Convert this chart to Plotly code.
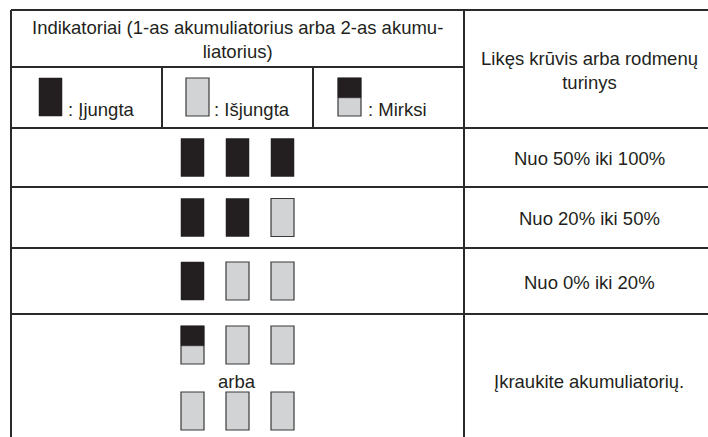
import plotly.graph_objects as go

# ---------------- data ----------------
header_title = "Indikatoriai (1-as akumuliatorius arba 2-as akumu-<br>liatorius)"
result_header = "Likęs krūvis arba rodmenų<br>turinys"
legend_labels = [": Įjungta", ": Išjungta", ": Mirksi"]
legend_states = ["on", "off", "blink"]
row_results = ["Nuo 50% iki 100%", "Nuo 20% iki 50%", "Nuo 0% iki 20%", "Įkraukite akumuliatorių."]
row_states = [
    [["on", "on", "on"]],
    [["on", "on", "off"]],
    [["on", "off", "off"]],
    [["blink", "off", "off"], ["off", "off", "off"]],
]
alt_word = "arba"

# ---------------- style / layout ----------------
W, H = 708, 437
DARK = "#231f20"
LIGHT = "#d1d3d4"
LINE = "#2a2a2a"
FONT = dict(family="Arial, Liberation Sans, sans-serif", size=18.5, color=DARK)

left_x, mid_x, right_x = 11, 464, 708
top_y, head1_y, head2_y = 10, 67, 128
row_lines = [187, 248, 314]
leg_dividers = [162, 313]
row_centers = [157.5, 217.5, 281, 380]
icon_x = [181, 226, 271]
icon_w, icon_h = 23, 38

shapes = []

def hline(y, x0, x1):
    shapes.append(dict(type="line", x0=x0, x1=x1, y0=y, y1=y, xref="x", yref="y",
                       line=dict(color=LINE, width=2)))

def vline(x, y0, y1):
    shapes.append(dict(type="line", x0=x, x1=x, y0=y0, y1=y1, xref="x", yref="y",
                       line=dict(color=LINE, width=2)))

def icon(x0, y0, state):
    x1, y1 = x0 + icon_w, y0 + icon_h
    if state == "on":
        shapes.append(dict(type="rect", x0=x0, x1=x1, y0=y0, y1=y1, xref="x", yref="y",
                           fillcolor=DARK, line=dict(color=DARK, width=0.5)))
    elif state == "off":
        shapes.append(dict(type="rect", x0=x0, x1=x1, y0=y0, y1=y1, xref="x", yref="y",
                           fillcolor=LIGHT, line=dict(color="#3a3a3a", width=1.2)))
    else:
        ym = y0 + icon_h * 0.52
        shapes.append(dict(type="rect", x0=x0, x1=x1, y0=y0, y1=y1, xref="x", yref="y",
                           fillcolor=LIGHT, line=dict(color="#3a3a3a", width=1.2)))
        shapes.append(dict(type="rect", x0=x0, x1=x1, y0=y0, y1=ym, xref="x", yref="y",
                           fillcolor=DARK, line=dict(color=DARK, width=0.5)))

# grid
hline(top_y, left_x, right_x)
hline(head1_y, left_x, mid_x)
hline(head2_y, left_x, right_x)
for y in row_lines:
    hline(y, left_x, right_x)
vline(left_x, top_y, H)
vline(mid_x, top_y, H)
for x in leg_dividers:
    vline(x, head1_y, head2_y)

annotations = []

def text(x, y, s, xanchor="center"):
    annotations.append(dict(x=x, y=y, xref="x", yref="y", text=s, showarrow=False,
                            xanchor=xanchor, yanchor="middle", font=FONT, align="center"))

# headers
text((left_x + mid_x) / 2, 39, header_title)
text(589, 70, result_header)

# legend row
legend_icon_x = [39, 186, 338]
legend_text_x = [66, 212, 366]
for lx, tx, lab, st in zip(legend_icon_x, legend_text_x, legend_labels, legend_states):
    icon(lx, 78, st)
    text(tx, 109, lab, xanchor="left")

# body rows
for i, (states, res) in enumerate(zip(row_states, row_results)):
    c = row_centers[i]
    if len(states) == 1:
        tops = [c - icon_h / 2]
    else:
        tops = [326, 392]
        text(237, 381, alt_word)
    for top, st_row in zip(tops, states):
        for x, st in zip(icon_x, st_row):
            icon(x, top, st)
    text(589, c + 1, res)

fig = go.Figure()
fig.update_layout(
    width=W, height=H,
    margin=dict(l=0, r=0, t=0, b=0),
    paper_bgcolor="white", plot_bgcolor="white",
    xaxis=dict(range=[0, W], visible=False, fixedrange=True),
    yaxis=dict(range=[H, 0], visible=False, fixedrange=True),
    shapes=shapes, annotations=annotations, showlegend=False,
)
fig.write_html("out.html", config={"displayModeBar": False},
               post_script="document.body.style.margin='0';document.body.style.overflow='hidden';")
